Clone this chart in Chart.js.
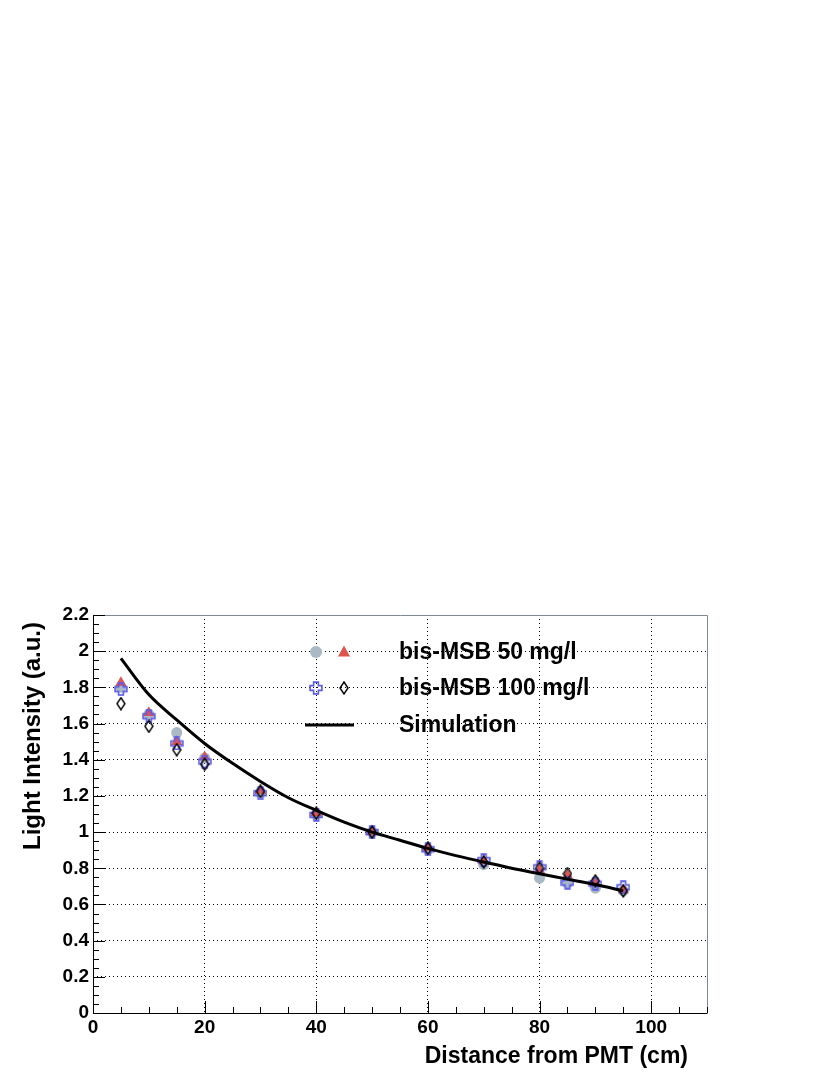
<!DOCTYPE html>
<html>
<head>
<meta charset="utf-8">
<title>Light Intensity vs Distance from PMT</title>
<script src="https://cdn.jsdelivr.net/npm/chart.js@4.4.1/dist/chart.umd.min.js"></script>
<style>
    html, body { margin: 0; padding: 0; background: #fff; }
    #wrap { width: 830px; height: 1075px; position: relative; }
</style>
</head>
<body>
<div id="wrap"><canvas id="lightChart" width="830" height="1075"></canvas></div>
<script>
// Measured points (distance in cm)
const distances = [5, 10, 15, 20, 30, 40, 50, 60, 70, 80, 85, 90, 95];

// bis-MSB 50 mg/l, two sets (circles / triangles)
const msb50SetA = [1.80, 1.65, 1.55, 1.41, 1.22, 1.10, 1.00, 0.905, 0.82, 0.745, 0.72, 0.69, 0.675];
const msb50SetB = [1.825, 1.66, 1.50, 1.415, 1.23, 1.105, 1.00, 0.915, 0.84, 0.79, 0.76, 0.72, 0.68];

// bis-MSB 100 mg/l, two sets (open crosses / open diamonds)
const msb100SetA = [1.79, 1.64, 1.49, 1.39, 1.215, 1.095, 1.00, 0.905, 0.845, 0.805, 0.72, 0.715, 0.695];
const msb100SetB = [1.71, 1.585, 1.455, 1.375, 1.225, 1.105, 1.00, 0.91, 0.835, 0.80, 0.77, 0.73, 0.675];

// Simulation curve
const simDistances = [5, 10, 15, 20, 25, 30, 35, 40, 45, 50, 55, 60, 65, 70, 75, 80, 85, 90, 95];
const simValues = [1.96, 1.76, 1.62, 1.49, 1.38, 1.28, 1.19, 1.12, 1.055, 1.00, 0.955, 0.91, 0.87, 0.835, 0.80, 0.77, 0.74, 0.71, 0.675];

// Axis ticks
const xTickStep = 20;
const yTickStep = 0.2;
const xMinorStep = 5;
const yMinorStep = 0.05;

const legendLabels = ['bis-MSB 50 mg/l', 'bis-MSB 100 mg/l', 'Simulation'];
const xTitle = 'Distance from PMT (cm)';
const yTitle = 'Light Intensity (a.u.)';

const COLORS = {
    circle: '#a9b9c6',
    triangle: '#de5550',
    cross: '#5a5ae6',
    diamond: '#000000',
    line: '#000000'
};

let lightChart = null;

/**
 * Open cross marker (ROOT style 28)
 */
function makeCrossMarker(size, color) {
    const c = document.createElement('canvas');
    c.width = size;
    c.height = size;
    const g = c.getContext('2d');
    const m = size / 2;
    const a = size * 0.42;   // arm half length
    const w = size * 0.17;   // arm half width
    g.strokeStyle = color;
    g.lineWidth = 1.6;
    g.beginPath();
    g.moveTo(m - w, m - a);
    g.lineTo(m + w, m - a);
    g.lineTo(m + w, m - w);
    g.lineTo(m + a, m - w);
    g.lineTo(m + a, m + w);
    g.lineTo(m + w, m + w);
    g.lineTo(m + w, m + a);
    g.lineTo(m - w, m + a);
    g.lineTo(m - w, m + w);
    g.lineTo(m - a, m + w);
    g.lineTo(m - a, m - w);
    g.lineTo(m - w, m - w);
    g.closePath();
    g.stroke();
    return c;
}

/**
 * Open narrow diamond marker (ROOT style 27)
 */
function makeDiamondMarker(w, h, color) {
    const c = document.createElement('canvas');
    c.width = w;
    c.height = h;
    const g = c.getContext('2d');
    g.strokeStyle = color;
    g.lineWidth = 1.4;
    g.beginPath();
    g.moveTo(w / 2, 1);
    g.lineTo(w - 1, h / 2);
    g.lineTo(w / 2, h - 1);
    g.lineTo(1, h / 2);
    g.closePath();
    g.stroke();
    return c;
}

const crossMarker = makeCrossMarker(14, COLORS.cross);
const diamondMarker = makeDiamondMarker(10, 14, COLORS.diamond);

function toPoints(xs, ys) {
    return xs.map((x, i) => ({ x: x, y: ys[i] }));
}

/**
 * Frame, inner ticks, titles and legend (ROOT look)
 */
const rootDecorPlugin = {
    id: 'rootDecor',
    afterDraw(chart) {
        const ctx = chart.ctx;
        const area = chart.chartArea;
        const xs = chart.scales.x;
        const ys = chart.scales.y;

        ctx.save();

        // frame
        ctx.lineWidth = 1;
        ctx.strokeStyle = '#7d8a96';
        ctx.beginPath();
        ctx.moveTo(area.left, area.top + 0.5);
        ctx.lineTo(area.right + 0.5, area.top + 0.5);
        ctx.lineTo(area.right + 0.5, area.bottom);
        ctx.stroke();
        ctx.strokeStyle = '#000';
        ctx.beginPath();
        ctx.moveTo(area.left + 0.5, area.top);
        ctx.lineTo(area.left + 0.5, area.bottom + 0.5);
        ctx.lineTo(area.right + 0.5, area.bottom + 0.5);
        ctx.stroke();

        // y ticks (inward)
        ctx.beginPath();
        for (let v = 0; v <= ys.max + 1e-9; v += yMinorStep) {
            const py = Math.round(ys.getPixelForValue(v)) + 0.5;
            const major = Math.abs(v / yTickStep - Math.round(v / yTickStep)) < 1e-6;
            ctx.moveTo(area.left, py);
            ctx.lineTo(area.left + (major ? 12 : 6), py);
        }
        // x ticks (inward)
        for (let v = 0; v <= xs.max + 1e-9; v += xMinorStep) {
            const px = Math.round(xs.getPixelForValue(v)) + 0.5;
            const major = v % xTickStep === 0;
            ctx.moveTo(px, area.bottom);
            ctx.lineTo(px, area.bottom - (major ? 12 : 6));
        }
        ctx.stroke();

        // axis titles
        ctx.fillStyle = '#000';
        ctx.font = 'bold 23px "Liberation Sans", Arial, sans-serif';
        ctx.textAlign = 'right';
        ctx.textBaseline = 'alphabetic';
        ctx.fillText(xTitle, 688, 1063);

        ctx.save();
        ctx.font = 'bold 24px "Liberation Sans", Arial, sans-serif';
        ctx.translate(40, 622);
        ctx.rotate(-Math.PI / 2);
        ctx.textAlign = 'right';
        ctx.fillText(yTitle, 0, 0);
        ctx.restore();

        // legend
        const rows = [652, 688, 725];
        const mx1 = 316, mx2 = 344;

        ctx.fillStyle = COLORS.circle;
        ctx.beginPath();
        ctx.arc(mx1, rows[0], 6, 0, Math.PI * 2);
        ctx.fill();

        ctx.fillStyle = COLORS.triangle;
        ctx.beginPath();
        ctx.moveTo(mx2, rows[0] - 6.5);
        ctx.lineTo(mx2 + 6, rows[0] + 4.5);
        ctx.lineTo(mx2 - 6, rows[0] + 4.5);
        ctx.closePath();
        ctx.fill();

        ctx.drawImage(crossMarker, mx1 - crossMarker.width / 2, rows[1] - crossMarker.height / 2);
        ctx.drawImage(diamondMarker, mx2 - diamondMarker.width / 2, rows[1] - diamondMarker.height / 2);

        ctx.strokeStyle = COLORS.line;
        ctx.lineWidth = 3;
        ctx.beginPath();
        ctx.moveTo(305, rows[2]);
        ctx.lineTo(354, rows[2]);
        ctx.stroke();

        ctx.fillStyle = '#000';
        ctx.textAlign = 'left';
        ctx.textBaseline = 'middle';
        legendLabels.forEach((label, i) => {
            ctx.fillText(label, 399, rows[i] + 1);
        });

        ctx.restore();
    }
};

/**
 * Create the chart
 */
function createLightChart() {
    const ctx = document.getElementById('lightChart');
    if (!ctx) return;

    Chart.defaults.font.family = "'Liberation Sans', Arial, sans-serif";
    Chart.defaults.font.size = 19;
    Chart.defaults.font.weight = 'bold';
    Chart.defaults.color = '#000';

    lightChart = new Chart(ctx, {
        type: 'scatter',
        data: {
            datasets: [
                {
                    label: 'Simulation',
                    data: toPoints(simDistances, simValues),
                    showLine: true,
                    borderColor: COLORS.line,
                    borderWidth: 3,
                    pointRadius: 0,
                    cubicInterpolationMode: 'monotone'
                },
                {
                    label: 'bis-MSB 100 mg/l (b)',
                    data: toPoints(distances, msb100SetB),
                    pointStyle: diamondMarker,
                    pointRadius: 7
                },
                {
                    label: 'bis-MSB 100 mg/l (a)',
                    data: toPoints(distances, msb100SetA),
                    pointStyle: crossMarker,
                    pointRadius: 7
                },
                {
                    label: 'bis-MSB 50 mg/l (b)',
                    data: toPoints(distances, msb50SetB),
                    pointStyle: 'triangle',
                    pointRadius: 6.5,
                    backgroundColor: COLORS.triangle,
                    borderColor: COLORS.triangle,
                    borderWidth: 0
                },
                {
                    label: 'bis-MSB 50 mg/l (a)',
                    data: toPoints(distances, msb50SetA),
                    pointStyle: 'circle',
                    pointRadius: 5.5,
                    backgroundColor: COLORS.circle,
                    borderColor: COLORS.circle,
                    borderWidth: 0
                }
            ]
        },
        options: {
            responsive: false,
            animation: false,
            layout: {
                padding: { top: 615, right: 123, left: 0, bottom: 0 }
            },
            plugins: {
                legend: { display: false },
                tooltip: { enabled: false }
            },
            scales: {
                x: {
                    type: 'linear',
                    min: 0,
                    max: 110,
                    afterFit: function (scale) {
                        scale.height = 62;
                    },
                    grid: {
                        color: '#000',
                        lineWidth: 1,
                        drawTicks: false
                    },
                    border: {
                        display: false,
                        dash: [1, 3]
                    },
                    ticks: {
                        stepSize: xTickStep,
                        includeBounds: false,
                        maxRotation: 0,
                        padding: 3
                    }
                },
                y: {
                    type: 'linear',
                    min: 0,
                    max: 2.2,
                    afterFit: function (scale) {
                        scale.width = 93;
                    },
                    grid: {
                        color: '#000',
                        lineWidth: 1,
                        drawTicks: false
                    },
                    border: {
                        display: false,
                        dash: [1, 3]
                    },
                    ticks: {
                        stepSize: yTickStep,
                        padding: 4,
                        callback: function (value) {
                            return Math.round(value * 10) / 10;
                        }
                    }
                }
            }
        },
        plugins: [rootDecorPlugin]
    });
}

createLightChart();
</script>
</body>
</html>
